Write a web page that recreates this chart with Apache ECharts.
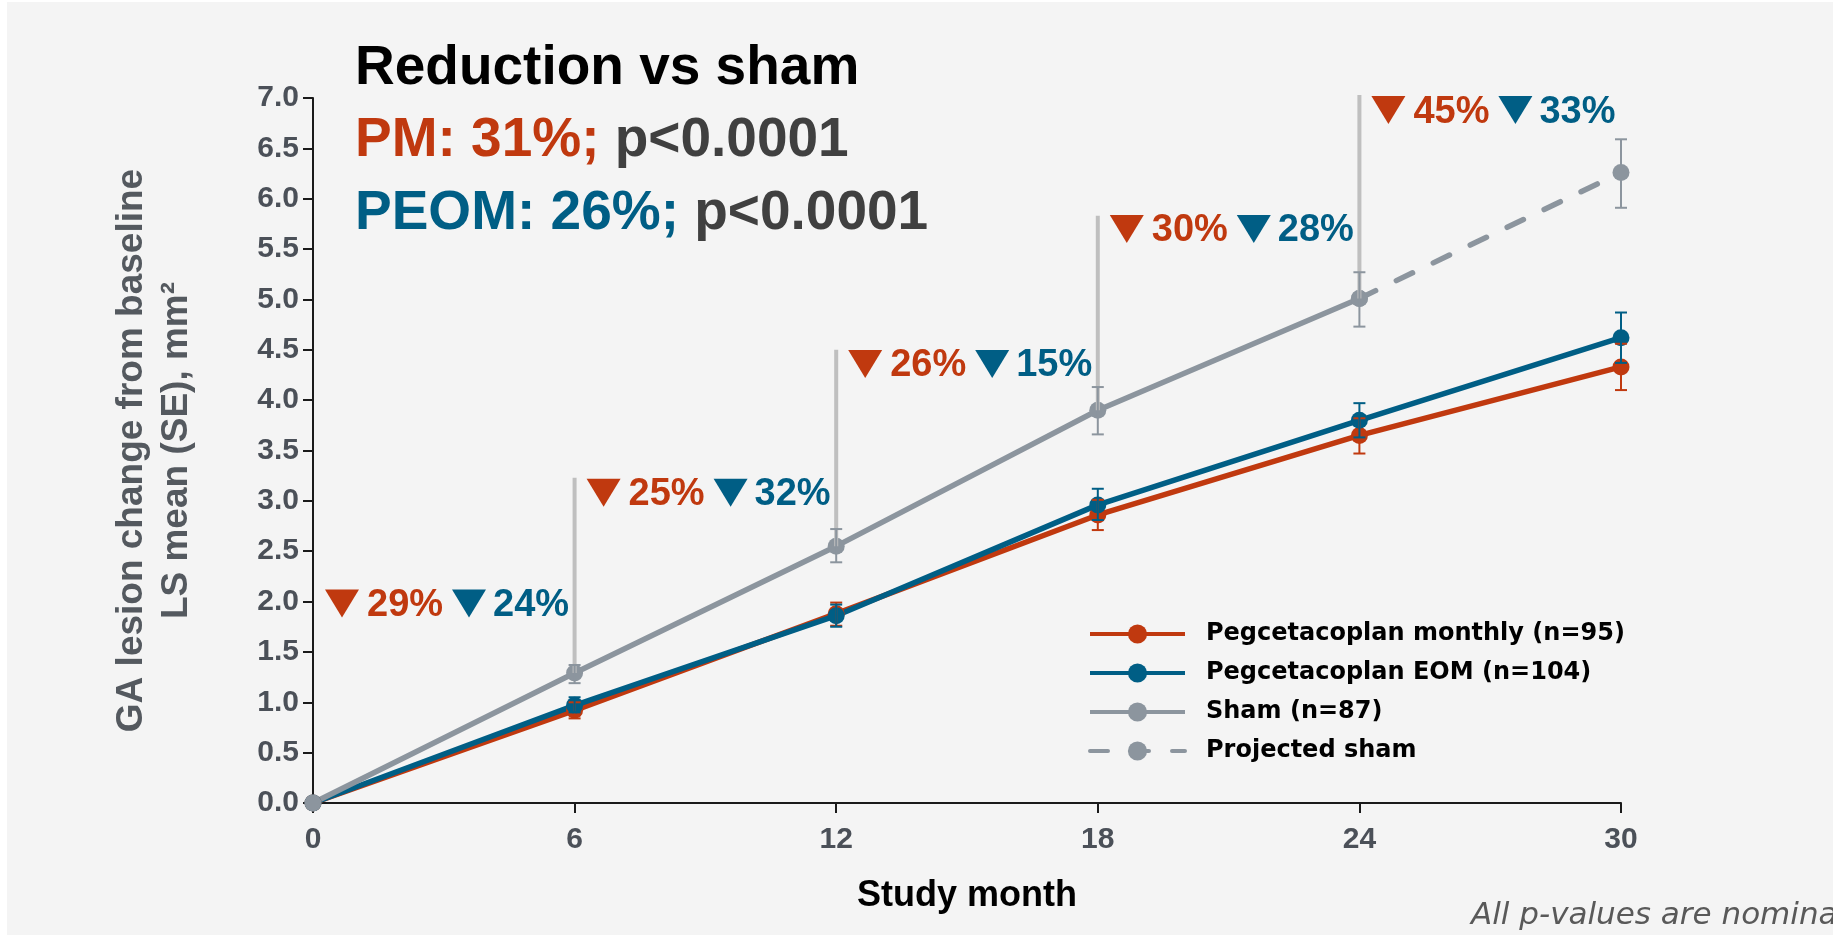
<!DOCTYPE html>
<html>
<head>
<meta charset="utf-8">
<script src="https://cdn.jsdelivr.net/npm/echarts@6/dist/echarts.min.js"></script>
<style>
html,body{margin:0;padding:0;background:#ffffff;}
#chart{width:1833px;height:935px;}
</style>
</head>
<body>
<div id="chart"></div>
<script>
// ---- data ----
const months = [0, 6, 12, 18, 24, 30];
const pmMean = [0, 0.92, 1.88, 2.86, 3.65, 4.33];
const pmLow = [0, 0.84, 1.76, 2.71, 3.47, 4.10];
const pmHigh = [0, 1.00, 1.99, 3.01, 3.82, 4.56];
const peomMean = [0, 0.97, 1.86, 2.96, 3.80, 4.62];
const peomLow = [0, 0.90, 1.75, 2.81, 3.63, 4.37];
const peomHigh = [0, 1.05, 1.97, 3.12, 3.97, 4.87];
const shamMonths = [0, 6, 12, 18, 24];
const shamMean = [0, 1.29, 2.55, 3.90, 5.01];
const shamLow = [0, 1.19, 2.39, 3.66, 4.73];
const shamHigh = [0, 1.37, 2.72, 4.13, 5.27];
const projMonths = [24, 30];
const projMean = [5.01, 6.26];
const projLow = [4.73, 5.91];
const projHigh = [5.27, 6.59];
const connectorMonths = [6, 12, 18, 24];
const connectorTop = [3.23, 4.50, 5.83, 7.03];
const annotMonths = [0, 6, 12, 18, 24];
const annotY = [1.98, 3.08, 4.36, 5.70, 6.88];
const annotPM = [29, 25, 26, 30, 45];
const annotPEOM = [24, 32, 15, 28, 33];
const xTicks = [0, 6, 12, 18, 24, 30];
const seriesNames = ['Pegcetacoplan monthly (n=95)', 'Pegcetacoplan EOM (n=104)', 'Sham (n=87)', 'Projected sham'];

// ---- styles ----
const ORANGE = '#C0390F';
const BLUE = '#005E85';
const GREY = '#8C959E';
const CONNECT = '#BFBFBF';
const FONT = '"Liberation Sans", Arial, sans-serif';

const chart = echarts.init(document.getElementById('chart'), null, {renderer: 'canvas'});

function pairs(xs, ys) { return xs.map((x, i) => [x, ys[i]]); }
function errData(xs, lo, hi) {
  const out = [];
  xs.forEach((x, i) => { if (hi[i] - lo[i] > 0) out.push([x, lo[i], hi[i]]); });
  return out;
}

function errSeries(data, color) {
  return {
    type: 'custom', silent: true, clip: false, z: 5,
    data: data,
    renderItem: function (params, api) {
      const x = api.value(0);
      const a = api.coord([x, api.value(1)]);
      const b = api.coord([x, api.value(2)]);
      const hw = 6;
      const st = {stroke: color, lineWidth: 2};
      return {
        type: 'group', children: [
          {type: 'line', shape: {x1: a[0], y1: a[1], x2: b[0], y2: b[1]}, style: st},
          {type: 'line', shape: {x1: a[0] - hw, y1: a[1], x2: a[0] + hw, y2: a[1]}, style: st},
          {type: 'line', shape: {x1: b[0] - hw, y1: b[1], x2: b[0] + hw, y2: b[1]}, style: st}
        ]
      };
    }
  };
}

const connData = connectorMonths.map((m, i) => [m, shamMean[shamMonths.indexOf(m)], connectorTop[i]]);
const annData = annotMonths.map((m, i) => [m, annotY[i], annotPM[i], annotPEOM[i]]);

function lineSeries(name, data, color, dashed, z) {
  return {
    name: name, type: 'line', data: data, clip: false, z: z,
    symbol: 'circle', symbolSize: 17, showSymbol: true,
    lineStyle: {color: color, width: 5.5, type: dashed ? [18, 23] : 'solid', cap: dashed ? 'round' : 'butt'},
    itemStyle: {color: color},
    emphasis: {disabled: true},
    animation: false
  };
}

const option = {
  backgroundColor: '#F4F4F4',
  animation: false,
  grid: {left: 313, right: 212, top: 98, bottom: 132, containLabel: false},
  xAxis: {
    type: 'value', min: 0, max: 30, interval: 6,
    name: 'Study month', nameLocation: 'middle', nameGap: 75,
    nameTextStyle: {fontFamily: FONT, fontWeight: 'bold', fontSize: 36, color: '#000000'},
    axisLine: {show: true, lineStyle: {color: '#1a1a1a', width: 2}},
    axisTick: {show: true, length: 10, lineStyle: {color: '#1a1a1a', width: 2}},
    axisLabel: {margin: 22, fontFamily: FONT, fontWeight: 'bold', fontSize: 30, color: '#4B5058',
      formatter: v => xTicks.indexOf(v) >= 0 ? String(v) : ''},
    splitLine: {show: false}
  },
  yAxis: {
    type: 'value', min: 0, max: 7, interval: 0.5,
    name: 'GA lesion change from baseline\nLS mean (SE), mm²', nameLocation: 'middle', nameGap: 114,
    nameTextStyle: {fontFamily: FONT, fontWeight: 'bold', fontSize: 37, lineHeight: 45, color: '#54595F', align: 'center'},
    axisLine: {show: true, lineStyle: {color: '#1a1a1a', width: 2}},
    axisTick: {show: true, length: 10, lineStyle: {color: '#1a1a1a', width: 2}},
    axisLabel: {margin: 14, fontFamily: FONT, fontWeight: 'bold', fontSize: 30, color: '#4B5058',
      formatter: v => v.toFixed(1)},
    splitLine: {show: false}
  },
  legend: {
    data: seriesNames,
    orient: 'vertical', left: 1083, top: 617,
    itemWidth: 95, itemHeight: 24, itemGap: 15,
    selectedMode: false,
    lineStyle: {width: 4},
    textStyle: {fontFamily: '"DejaVu Sans", sans-serif', fontWeight: 'bold', fontSize: 24, lineHeight: 24, color: '#000000', padding: [0, 0, 0, 16]}
  },
  graphic: [
    {type: 'rect', left: 0, top: 0, shape: {width: 7, height: 935}, style: {fill: '#ffffff'}, silent: true},
    {type: 'rect', left: 0, top: 0, shape: {width: 1833, height: 2}, style: {fill: '#ffffff'}, silent: true},
    {type: 'text', x: 355, y: 69, silent: true,
      style: {text: 'Reduction vs sham', font: 'bold 55px ' + FONT, fill: '#000000', verticalAlign: 'middle', align: 'left'}},
    {type: 'text', x: 355, y: 141, silent: true,
      style: {text: '{o|PM: 31%; }{g|p<0.0001}', verticalAlign: 'middle', align: 'left',
        rich: {o: {font: 'bold 55px ' + FONT, fill: ORANGE}, g: {font: 'bold 55px ' + FONT, fill: '#404040'}}}},
    {type: 'text', x: 355, y: 214, silent: true,
      style: {text: '{b|PEOM: 26%; }{g|p<0.0001}', verticalAlign: 'middle', align: 'left',
        rich: {b: {font: 'bold 55px ' + FONT, fill: BLUE}, g: {font: 'bold 55px ' + FONT, fill: '#404040'}}}},
    {type: 'text', x: 1471, y: 916, silent: true,
      style: {text: 'All p-values are nominal', font: 'italic 31px "DejaVu Sans", sans-serif', fill: '#595959', verticalAlign: 'middle', align: 'left'}}
  ],
  series: [
    lineSeries(seriesNames[0], pairs(months, pmMean), ORANGE, false, 2),
    lineSeries(seriesNames[1], pairs(months, peomMean), BLUE, false, 2),
    lineSeries(seriesNames[2], pairs(shamMonths, shamMean), GREY, false, 2),
    lineSeries(seriesNames[3], pairs(projMonths, projMean), GREY, true, 2),
    {
      type: 'custom', silent: true, clip: false, z: 4,
      data: connData,
      renderItem: function (params, api) {
        const x = api.value(0);
        const a = api.coord([x, api.value(1)]);
        const b = api.coord([x, api.value(2)]);
        return {type: 'line', shape: {x1: a[0], y1: a[1], x2: b[0], y2: b[1]}, style: {stroke: CONNECT, lineWidth: 4}};
      }
    },
    errSeries(errData(shamMonths, shamLow, shamHigh).concat(errData([30], [projLow[1]], [projHigh[1]])), GREY),
    errSeries(errData(months, pmLow, pmHigh), ORANGE),
    errSeries(errData(months, peomLow, peomHigh), BLUE),
    {
      type: 'custom', silent: true, clip: false, z: 6,
      data: annData,
      renderItem: function (params, api) {
        const p = api.coord([api.value(0), api.value(1)]);
        const x0 = p[0] + 12, y = p[1];
        const tri = (x, c) => ({type: 'polygon', shape: {points: [[x, y - 14], [x + 34, y - 14], [x + 17, y + 14]]}, style: {fill: c}});
        const txt = (x, s, c) => ({type: 'text', style: {x: x, y: y + 2, text: s, fill: c, font: 'bold 38px ' + FONT, verticalAlign: 'middle', align: 'left'}});
        return {type: 'group', children: [
          tri(x0, ORANGE), txt(x0 + 42, api.value(2) + '%', ORANGE),
          tri(x0 + 127, BLUE), txt(x0 + 168, api.value(3) + '%', BLUE)
        ]};
      }
    }
  ]
};
chart.setOption(option);
</script>
</body>
</html>
